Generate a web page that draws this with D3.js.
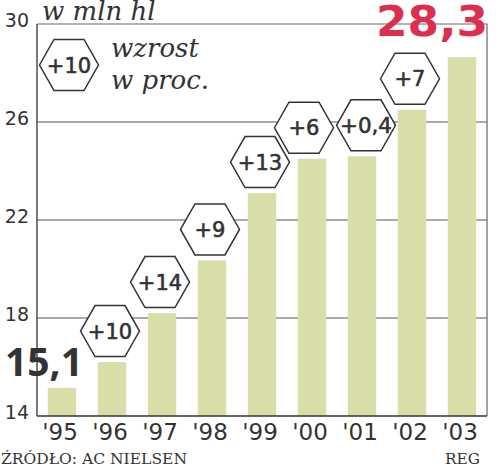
<!DOCTYPE html>
<html><head><meta charset="utf-8">
<script src="https://cdn.jsdelivr.net/npm/d3@7"></script>
<style>html,body{margin:0;padding:0;background:#fff;}svg{display:block;}</style>
</head><body>
<svg id="c" width="500" height="469"></svg>
<script>
const years = ["'95","'96","'97","'98","'99","'00","'01","'02","'03"];
const values = [15.15, 16.2, 18.2, 20.35, 23.1, 24.5, 24.6, 26.5, 28.65];
const growth = [null, "+10", "+14", "+9", "+13", "+6", "+0,4", "+7", null];
const yTicks = [14, 18, 22, 26, 30];
const firstLabel = "15,1";
const lastLabel = "28,3";
const unitLabel = "w mln hl";
const legendHex = "+10";
const legendText = ["wzrost", "w proc."];
const source = "ŹRÓDŁO: AC NIELSEN";
const author = "REG";

const svg = d3.select("#c");
const L = 37, R = 487, T = 24, B = 416;
const x = d3.scaleBand().domain(years).range([L, R]).paddingInner(0.43).paddingOuter(0.215);
const y = d3.scaleLinear().domain([14, 30]).range([B, T]);
const dark = "#333";
const sans = "'Open Sans', sans-serif";
const dv = "'DejaVu Sans', sans-serif";
const serif = "'DejaVu Serif', 'Liberation Serif', serif";

// gridlines
svg.append("g").selectAll("line").data(yTicks.filter(t => t > 14 && t < 30)).join("line")
  .attr("x1", L).attr("x2", R).attr("y1", d => y(d)).attr("y2", d => y(d))
  .attr("stroke", "#555").attr("stroke-width", 1);

// frame
svg.append("path").attr("d", `M${L},${T}H${R}V${B}`).attr("fill", "none").attr("stroke", "#666").attr("stroke-width", 1.2);

// bars
svg.append("g").selectAll("rect").data(values).join("rect")
  .attr("x", (d, i) => x(years[i])).attr("width", x.bandwidth())
  .attr("y", d => y(d)).attr("height", d => B - y(d))
  .attr("fill", "#d9dea9");

// axes lines
svg.append("line").attr("x1", L).attr("x2", L).attr("y1", T).attr("y2", B).attr("stroke", dark).attr("stroke-width", 1.3);
svg.append("line").attr("x1", L).attr("x2", R).attr("y1", B).attr("y2", B).attr("stroke", dark).attr("stroke-width", 1.3);

// y tick labels
svg.append("g").selectAll("text").data(yTicks).join("text")
  .attr("x", 29).attr("y", d => y(d) + 3)
  .attr("text-anchor", "end").attr("font-family", dv).attr("font-size", 19)
  .attr("fill", dark).text(d => d);

// x labels
svg.append("g").selectAll("text").data(years).join("text")
  .attr("x", d => x(d) + x.bandwidth() / 2 - 2).attr("y", 440)
  .attr("text-anchor", "middle").attr("font-family", dv).attr("font-size", 23)
  .attr("fill", dark).text(d => d);

// hexagons
const hw = 29.5, hh = 25.5, he = 15;
const hexPath = `M${-hw},0L${-he},${-hh}L${he},${-hh}L${hw},0L${he},${hh}L${-he},${hh}Z`;
const hexes = [];
growth.forEach((g, i) => {
  if (g) hexes.push({ t: g, cx: x(years[i]) + x.bandwidth() / 2 - 2, cy: y(values[i]) - 31 });
});
for (let k = 0; k < hexes.length - 1; k++) {
  const a = hexes[k], b = hexes[k + 1];
  const need = 2 * hw + 3;
  if (Math.abs(a.cy - b.cy) < 12 && b.cx - a.cx < need) {
    const s = (need - (b.cx - a.cx)) / 2;
    a.cx -= s; b.cx += s;
  }
}
function drawHex(g, cx, cy, t) {
  const h = g.append("g").attr("transform", `translate(${cx},${cy})`);
  h.append("path").attr("d", hexPath).attr("fill", "#fff").attr("stroke", dark).attr("stroke-width", 1.5);
  const tx = h.append("text").attr("y", 7.6).attr("text-anchor", "middle")
    .attr("font-family", dv).attr("font-size", 21)
    .attr("fill", dark).attr("stroke", dark).attr("stroke-width", 0.6).text(t);
  if (t.length > 3) tx.attr("textLength", 52).attr("lengthAdjust", "spacingAndGlyphs");
}
const hg = svg.append("g");
hexes.forEach(d => drawHex(hg, d.cx, d.cy, d.t));

// legend
drawHex(svg, 69, 65, legendHex);
svg.append("text").attr("x", 111).attr("y", 57).attr("font-family", serif).attr("font-style", "italic")
  .attr("font-size", 26).attr("fill", dark).text(legendText[0]);
svg.append("text").attr("x", 111).attr("y", 89).attr("font-family", serif).attr("font-style", "italic")
  .attr("font-size", 26).attr("fill", dark).text(legendText[1]);

// unit
svg.append("text").attr("x", 42).attr("y", 20).attr("font-family", serif).attr("font-style", "italic")
  .attr("font-size", 26).attr("fill", dark).text(unitLabel);

// value labels
svg.append("text").attr("x", x(years[0]) + x.bandwidth() / 2 - 18).attr("y", 376)
  .attr("text-anchor", "middle").attr("font-family", sans).attr("font-weight", 700)
  .attr("font-size", 39).attr("fill", dark).text(firstLabel);
svg.append("text").attr("x", 488).attr("y", 36)
  .attr("text-anchor", "end").attr("font-family", dv).attr("font-weight", 700)
  .attr("font-size", 43).attr("textLength", 112).attr("lengthAdjust", "spacingAndGlyphs")
  .attr("fill", "#dc2f4f").text(lastLabel);

// footer
svg.append("text").attr("x", 1).attr("y", 464).attr("font-family", serif).attr("font-size", 15)
  .attr("textLength", 186).attr("lengthAdjust", "spacingAndGlyphs").attr("fill", dark).text(source);
svg.append("text").attr("x", 480).attr("y", 464).attr("text-anchor", "end").attr("font-family", serif).attr("font-size", 15)
  .attr("textLength", 35).attr("lengthAdjust", "spacingAndGlyphs").attr("fill", dark).text(author);
</script>
</body></html>
